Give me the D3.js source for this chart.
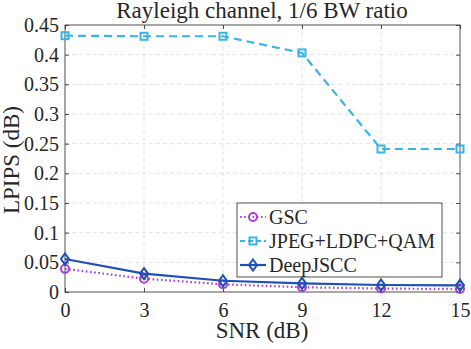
<!DOCTYPE html>
<html><head><meta charset="utf-8">
<script src="https://cdn.jsdelivr.net/npm/d3@7"></script>
<style>
@font-face { font-family: "ChartSerif"; src: local("Liberation Serif"), local("LiberationSerif"), local("LiberationSerif-Regular"), local("Times New Roman"); }
body{margin:0;background:#fff}
svg{display:block}
svg text, svg g text { font-family: "Liberation Serif", "ChartSerif", "Times New Roman", "Tinos" !important; }
</style>
</head><body><svg id="c" width="471" height="349"></svg>
<script>
const snr = [0, 3, 6, 9, 12, 15];
const gsc = [0.039, 0.0225, 0.013, 0.008, 0.0058, 0.005];
const jpeg = [0.432, 0.431, 0.431, 0.403, 0.241, 0.241];
const deep = [0.0556, 0.031, 0.019, 0.0146, 0.0118, 0.0113];
const xTicks = [0, 3, 6, 9, 12, 15];
const yTicks = [0, 0.05, 0.1, 0.15, 0.2, 0.25, 0.3, 0.35, 0.4, 0.45];
const seriesNames = ["GSC", "JPEG+LDPC+QAM", "DeepJSCC"];

const INK = "#262626";
const svg = d3.select("#c");
const L = 65, R = 460, T = 25, B = 292;
const x = d3.scaleLinear().domain([0, 15]).range([L, R]);
const y = d3.scaleLinear().domain([0, 0.45]).range([B, T]);

function serif(sel, size) {
  sel.style("font-family", '"Liberation Serif"').attr("font-size", size);
  return sel;
}

// grid
const g = svg.append("g");
g.selectAll(".gx").data(xTicks.slice(1, -1)).enter().append("line")
  .attr("x1", d => x(d)).attr("x2", d => x(d)).attr("y1", T).attr("y2", B)
  .attr("stroke", "#dcdcdc").attr("stroke-width", 0.8).attr("stroke-dasharray", "4,3");
g.selectAll(".gy").data(yTicks.slice(1, -1)).enter().append("line")
  .attr("y1", d => y(d)).attr("y2", d => y(d)).attr("x1", L).attr("x2", R)
  .attr("stroke", "#dcdcdc").attr("stroke-width", 0.8).attr("stroke-dasharray", "4,3");

// axes
const fmt = d => String(+d.toFixed(2));
const xa = svg.append("g").attr("transform", `translate(0,${B})`)
  .call(d3.axisBottom(x).tickValues(xTicks).tickSize(-4).tickPadding(11).tickFormat(d => d));
const xt = svg.append("g").attr("transform", `translate(0,${T})`)
  .call(d3.axisTop(x).tickValues(xTicks).tickSize(-4).tickFormat(""));
const ya = svg.append("g").attr("transform", `translate(${L},0)`)
  .call(d3.axisLeft(y).tickValues(yTicks).tickSize(-4).tickPadding(6).tickFormat(fmt));
const yr = svg.append("g").attr("transform", `translate(${R},0)`)
  .call(d3.axisRight(y).tickValues(yTicks).tickSize(-4).tickFormat(""));
[xa, xt, ya, yr].forEach(a => {
  a.attr("font-family", null).attr("font-size", 20);
  a.selectAll(".tick line").attr("stroke", INK).attr("stroke-width", 0.8);
  serif(a.selectAll("text"), 20).attr("fill", INK);
});
xa.selectAll("text").attr("dy", "0.71em");
svg.selectAll(".domain").remove();
svg.append("rect").attr("x", L).attr("y", T).attr("width", R - L).attr("height", B - T)
  .attr("fill", "none").attr("stroke", INK).attr("stroke-width", 0.8);

// labels
serif(svg.append("text").attr("x", 262).attr("y", 18).attr("text-anchor", "middle"), 23)
  .attr("fill", INK).text("Rayleigh channel, 1/6 BW ratio");
serif(svg.append("text").attr("x", 262).attr("y", 338).attr("text-anchor", "middle"), 23)
  .attr("fill", INK).text("SNR (dB)");
serif(svg.append("text").attr("transform", "translate(19,160) rotate(-90)").attr("text-anchor", "middle"), 23)
  .attr("fill", INK).text("LPIPS (dB)");

const line = d3.line().x((d, i) => x(snr[i])).y(d => y(d));
const series = [
  {name: seriesNames[0], data: gsc, color: "#A640D8", dash: "1.6,2.6", marker: "circle", w: 2.2},
  {name: seriesNames[1], data: jpeg, color: "#38B4E8", dash: "8,5", marker: "square", w: 2.2},
  {name: seriesNames[2], data: deep, color: "#1F4FB8", dash: null, marker: "diamond", w: 2.2}
];
function drawMarker(sel, type, cx, cy, color) {
  if (type === "circle") sel.append("circle").attr("cx", cx).attr("cy", cy).attr("r", 4)
    .attr("fill", "none").attr("stroke", color).attr("stroke-width", 2);
  else if (type === "square") sel.append("rect").attr("x", cx - 3.5).attr("y", cy - 3.5).attr("width", 7).attr("height", 7)
    .attr("fill", "none").attr("stroke", color).attr("stroke-width", 2);
  else sel.append("path").attr("d", `M${cx},${cy - 5.5}L${cx + 4},${cy}L${cx},${cy + 5.5}L${cx - 4},${cy}Z`)
    .attr("fill", "none").attr("stroke", color).attr("stroke-width", 2);
}
series.forEach(s => {
  const gg = svg.append("g");
  gg.append("path").attr("d", line(s.data)).attr("fill", "none").attr("stroke", s.color)
    .attr("stroke-width", s.w).attr("stroke-dasharray", s.dash);
  s.data.forEach((d, i) => drawMarker(gg, s.marker, x(snr[i]), y(d), s.color));
});

// legend
const lg = svg.append("g");
lg.append("rect").attr("x", 237).attr("y", 203).attr("width", 205).attr("height", 74)
  .attr("fill", "#fff").attr("stroke", INK).attr("stroke-width", 0.8);
series.forEach((s, i) => {
  const cy = 217 + i * 24;
  lg.append("line").attr("x1", 240).attr("x2", 266).attr("y1", cy).attr("y2", cy)
    .attr("stroke", s.color).attr("stroke-width", s.w).attr("stroke-dasharray", s.dash ? (s.marker === "square" ? "5,3" : s.dash) : null);
  drawMarker(lg, s.marker, 253, cy, s.color);
  serif(lg.append("text").attr("x", 269).attr("y", cy + 6.5), 20).attr("fill", INK).text(s.name);
});
</script></body></html>
